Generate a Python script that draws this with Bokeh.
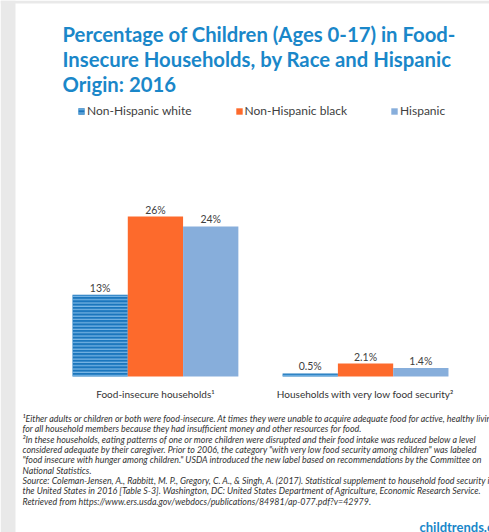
from bokeh.plotting import figure
from bokeh.models import FactorRange, Range1d, ColumnDataSource, Label, BoxAnnotation
from bokeh.transform import dodge
from bokeh.embed import file_html
from bokeh.resources import INLINE
from bokeh.core.properties import value

# ---- data ----
groups = ["Food-insecure households\u00b9", "Households with very low food security\u00b2"]
series = ["Non-Hispanic white", "Non-Hispanic black", "Hispanic"]
white = [13.3, 0.5]
black = [26.0, 2.1]
hispanic = [24.4, 1.4]
white_labels = ["13%", "0.5%"]
black_labels = ["26%", "2.1%"]
hispanic_labels = ["24%", "1.4%"]

title_lines = [
    "Percentage of Children (Ages 0-17) in Food-",
    "Insecure Households, by Race and Hispanic",
    "Origin: 2016",
]
notes = [
    "\u00b9Either adults or children or both were food-insecure. At times they were unable to acquire adequate food for active, healthy living",
    "for all household members because they had insufficient money and other resources for food.",
    "\u00b2In these households, eating patterns of one or more children were disrupted and their food intake was reduced below a level",
    "considered adequate by their caregiver. Prior to 2006, the category \"with very low food security among children\" was labeled",
    "\"food insecure with hunger among children.\" USDA introduced the new label based on recommendations by the Committee on",
    "National Statistics.",
    "Source: Coleman-Jensen, A., Rabbitt, M. P., Gregory, C. A., & Singh, A. (2017). Statistical supplement to household food security in",
    "the United States in 2016 [Table S-3]. Washington, DC: United States Department of Agriculture, Economic Research Service.",
    "Retrieved from https://www.ers.usda.gov/webdocs/publications/84981/ap-077.pdf?v=42979.",
]
brand = "childtrends.org"

# ---- styles ----
colors = {"Non-Hispanic white": "#1b76bd", "Non-Hispanic black": "#fd6a2c", "Hispanic": "#87aedb"}
hatches = {"Non-Hispanic white": "horizontal_line", "Non-Hispanic black": " ", "Hispanic": " "}
TITLE_BLUE = "#1a87c9"
TEXT = "#404040"

vals = {"Non-Hispanic white": white, "Non-Hispanic black": black, "Hispanic": hispanic}
labs = {"Non-Hispanic white": white_labels, "Non-Hispanic black": black_labels, "Hispanic": hispanic_labels}

xs, ys, ss, cs, hs, ts = [], [], [], [], [], []
for gi, g in enumerate(groups):
    for s in series:
        xs.append((g, s))
        ys.append(vals[s][gi])
        ss.append(s)
        cs.append(colors[s])
        hs.append(hatches[s])
        ts.append(labs[s][gi])
src = ColumnDataSource(dict(x=xs, y=ys, series=ss, color=cs, hatch=hs, label=ts))

W, H = 489, 532
PX = 6.15          # pixels per percentage point
BASE = 156         # baseline height above the bottom edge (px)
xr = FactorRange(*xs, range_padding=1.022, range_padding_units="absolute",
                 group_padding=0.8, factor_padding=0)
p = figure(width=W, height=H, output_backend="svg", toolbar_location=None,
           x_range=xr, y_range=Range1d(-BASE / PX, (H - BASE) / PX),
           x_axis_location=None, y_axis_location=None,
           min_border_left=0, min_border_right=0, min_border_top=0, min_border_bottom=0)
p.xgrid.visible = False
p.ygrid.visible = False
p.outline_line_color = None
p.background_fill_color = "white"
p.border_fill_color = "white"

# grey page strips (left and top)
p.add_layout(BoxAnnotation(left=0, right=15, bottom=0, top=H,
                           left_units="screen", right_units="screen",
                           bottom_units="screen", top_units="screen",
                           fill_color="#e9e9e9", fill_alpha=1, line_color=None))
p.add_layout(BoxAnnotation(left=0, right=W, bottom=H - 3, top=H,
                           left_units="screen", right_units="screen",
                           bottom_units="screen", top_units="screen",
                           fill_color="#e9e9e9", fill_alpha=1, line_color=None))

SHIFT = 0.28
p.vbar(x=dodge("x", SHIFT, range=xr), top="y", width=1.0, source=src, fill_color="color", line_color=None,
       hatch_pattern="hatch", hatch_color="#8ec4ee", hatch_scale=3.3, hatch_weight=1.0,
       legend_field="series")

p.text(x=dodge("x", SHIFT, range=xr), y="y", text="label", source=src, text_align="center",
       text_baseline="alphabetic", y_offset=-7, text_font=value("Lato"), text_font_size="10.5px",
       text_color=TEXT)

gsrc = ColumnDataSource(dict(x=groups, y=[0, 0], t=groups))
p.text(x=dodge("x", SHIFT, range=xr), y="y", text="t", source=gsrc, text_align="center",
       text_baseline="alphabetic", y_offset=17, text_font=value("Lato"), text_font_size="10px",
       text_color="#333333")

leg = p.legend[0]
leg.orientation = "horizontal"
leg.location = (77, 414)
leg.padding = 0
leg.margin = 0
leg.spacing = 43
leg.glyph_width = 8
leg.glyph_height = 8
leg.label_standoff = 2
leg.label_height = 12
leg.label_text_font = "Lato"
leg.label_text_font_size = "12px"
leg.label_text_color = TEXT
leg.background_fill_alpha = 0
leg.border_line_color = None

# title
for i, line in enumerate(title_lines):
    p.add_layout(Label(x=62, y=H - 33 - 25 * i, x_units="screen", y_units="screen", text=line,
                       text_font="Lato", text_font_style="bold", text_font_size="20.3px",
                       text_color=TITLE_BLUE, text_baseline="alphabetic"))

# footnotes
for i, line in enumerate(notes):
    p.add_layout(Label(x=22, y=H - 418 - 10.35 * i, x_units="screen", y_units="screen", text=line,
                       text_font="Lato", text_font_style="italic", text_font_size="8.9px",
                       text_color="#333333", text_baseline="alphabetic"))

p.add_layout(Label(x=419, y=H - 526, x_units="screen", y_units="screen", text=brand,
                   text_font="Lato", text_font_style="bold", text_font_size="13px",
                   text_color=TITLE_BLUE, text_baseline="alphabetic"))

open("out.html", "w").write(file_html(p, INLINE))
